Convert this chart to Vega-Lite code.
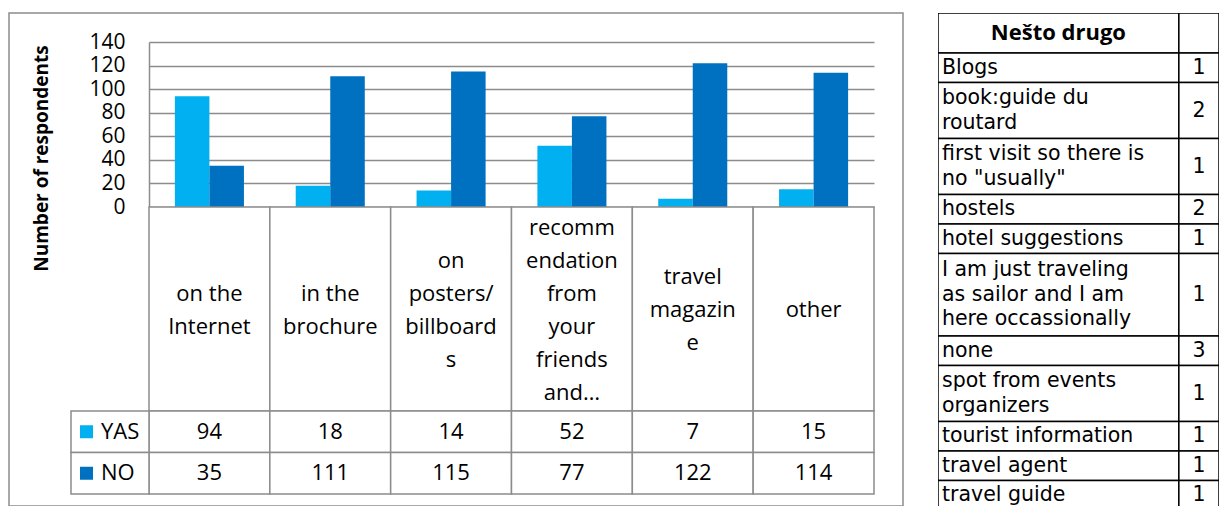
{
  "$schema": "https://vega.github.io/schema/vega-lite/v6.json",
  "padding": {"left": 8, "top": 12, "right": 0, "bottom": 0},
  "spacing": 34,
  "datasets": {
    "responses": [
      {"source": "on the Internet", "answer": "YAS", "respondents": 94},
      {"source": "on the Internet", "answer": "NO", "respondents": 35},
      {"source": "in the brochure", "answer": "YAS", "respondents": 18},
      {"source": "in the brochure", "answer": "NO", "respondents": 111},
      {"source": "on posters/billboards", "answer": "YAS", "respondents": 14},
      {"source": "on posters/billboards", "answer": "NO", "respondents": 115},
      {"source": "recommendation from your friends and…", "answer": "YAS", "respondents": 52},
      {"source": "recommendation from your friends and…", "answer": "NO", "respondents": 77},
      {"source": "travel magazine", "answer": "YAS", "respondents": 7},
      {"source": "travel magazine", "answer": "NO", "respondents": 122},
      {"source": "other", "answer": "YAS", "respondents": 15},
      {"source": "other", "answer": "NO", "respondents": 114}
    ],
    "sources": [
      {"source": "on the Internet", "label": ["on the", "Internet"]},
      {"source": "in the brochure", "label": ["in the", "brochure"]},
      {"source": "on posters/billboards", "label": ["on", "posters/", "billboard", "s"]},
      {"source": "recommendation from your friends and…", "label": ["recomm", "endation", "from", "your", "friends", "and…"]},
      {"source": "travel magazine", "label": ["travel", "magazin", "e"]},
      {"source": "other", "label": ["other"]}
    ],
    "drugo": [
      {"item": ["Nešto drugo"], "count": null},
      {"item": ["Blogs"], "count": 1},
      {"item": ["book:guide du", "routard"], "count": 2},
      {"item": ["first visit so there is", "no \"usually\""], "count": 1},
      {"item": ["hostels"], "count": 2},
      {"item": ["hotel suggestions"], "count": 1},
      {"item": ["I am just traveling", "as sailor and I am", "here occassionally"], "count": 1},
      {"item": ["none"], "count": 3},
      {"item": ["spot from events", "organizers"], "count": 1},
      {"item": ["tourist information"], "count": 1},
      {"item": ["travel agent"], "count": 1},
      {"item": ["travel guide"], "count": 1}
    ]
  },
  "hconcat": [
    {
      "width": 894,
      "height": 493,
      "view": {"stroke": "#8c8c8c", "strokeWidth": 1.5, "fill": "white"},
      "resolve": {"scale": {"x": "independent", "y": "independent"}},
      "layer": [
        {
          "data": {"name": "responses"},
          "mark": {"type": "bar"},
          "encoding": {
            "x": {
              "field": "source", "type": "nominal", "sort": null, "axis": null,
              "scale": {"domain": ["on the Internet", "in the brochure", "on posters/billboards", "recommendation from your friends and…", "travel magazine", "other"], "range": [140, 865], "paddingInner": 0, "paddingOuter": 0}
            },
            "xOffset": {
              "field": "answer", "type": "nominal",
              "scale": {"domain": ["YAS", "NO"], "paddingInner": 0, "paddingOuter": 0.75}
            },
            "y": {
              "field": "respondents", "type": "quantitative",
              "scale": {"domain": [0, 140], "range": [194, 29], "nice": false},
              "axis": {
                "orient": "left", "offset": -140, "tickCount": 7,
                "grid": true, "gridColor": "#8c8c8c", "gridWidth": 1.5,
                "domain": true, "domainColor": "#8c8c8c", "domainWidth": 1.5,
                "ticks": false, "labelPadding": 24,
                "labelFont": "Open Sans", "labelFontSize": 21, "labelColor": "black",
                "title": "Number of respondents", "titleFont": "Open Sans", "titleFontSize": 19, "titleFontWeight": "bold", "titleColor": "black",
                "titleAngle": -90, "titleX": -108, "titleY": 145, "titleAlign": "center", "titleBaseline": "middle"
              }
            },
            "color": {
              "field": "answer", "type": "nominal", "legend": null,
              "scale": {"domain": ["YAS", "NO"], "range": ["#00b0f0", "#0070c0"]}
            }
          }
        },
        {
          "data": {"name": "sources"},
          "mark": {"type": "rect", "fill": "white", "stroke": "#8c8c8c", "strokeWidth": 1.5},
          "encoding": {
            "x": {
              "field": "source", "type": "nominal", "sort": null, "axis": null,
              "scale": {"domain": ["on the Internet", "in the brochure", "on posters/billboards", "recommendation from your friends and…", "travel magazine", "other"], "range": [140, 865], "paddingInner": 0, "paddingOuter": 0}
            },
            "y": {"datum": "label", "type": "nominal", "axis": null, "scale": {"domain": ["label"], "range": [194, 398], "paddingInner": 0, "paddingOuter": 0}}
          }
        },
        {
          "data": {"name": "sources"},
          "transform": [{"calculate": "-(length(datum.label) - 1) / 2", "as": "shift"}],
          "mark": {"type": "text", "font": "Open Sans", "fontSize": 22, "lineHeight": 33, "color": "black", "baseline": "middle", "align": "center"},
          "encoding": {
            "x": {
              "field": "source", "type": "nominal", "sort": null, "axis": null,
              "scale": {"domain": ["on the Internet", "in the brochure", "on posters/billboards", "recommendation from your friends and…", "travel magazine", "other"], "range": [140, 865], "paddingInner": 0, "paddingOuter": 0}
            },
            "y": {"field": "shift", "type": "quantitative", "axis": null, "scale": {"domain": [-1, 1], "range": [264, 330], "nice": false, "zero": false}},
            "text": {"field": "label"}
          }
        },
        {
          "data": {"name": "responses"},
          "mark": {"type": "rect", "fill": "white", "stroke": "#8c8c8c", "strokeWidth": 1.5},
          "encoding": {
            "x": {
              "field": "source", "type": "nominal", "sort": null, "axis": null,
              "scale": {"domain": ["on the Internet", "in the brochure", "on posters/billboards", "recommendation from your friends and…", "travel magazine", "other"], "range": [140, 865], "paddingInner": 0, "paddingOuter": 0}
            },
            "y": {"field": "answer", "type": "nominal", "axis": null, "scale": {"domain": ["YAS", "NO"], "range": [398, 481], "paddingInner": 0, "paddingOuter": 0}}
          }
        },
        {
          "data": {"name": "responses"},
          "mark": {"type": "text", "font": "Open Sans", "fontSize": 22, "color": "black", "baseline": "middle", "align": "center"},
          "encoding": {
            "x": {
              "field": "source", "type": "nominal", "sort": null, "axis": null,
              "scale": {"domain": ["on the Internet", "in the brochure", "on posters/billboards", "recommendation from your friends and…", "travel magazine", "other"], "range": [140, 865], "paddingInner": 0, "paddingOuter": 0}
            },
            "y": {"field": "answer", "type": "nominal", "axis": null, "scale": {"domain": ["YAS", "NO"], "range": [398, 481], "paddingInner": 0, "paddingOuter": 0}},
            "text": {"field": "respondents", "type": "quantitative"}
          }
        },
        {
          "data": {"name": "responses"},
          "transform": [{"aggregate": [{"op": "count", "as": "n"}], "groupby": ["answer"]}],
          "layer": [
            {
              "mark": {"type": "rect", "fill": "white", "stroke": "#8c8c8c", "strokeWidth": 1.5},
              "encoding": {
                "x": {"datum": "legend", "type": "nominal", "axis": null, "scale": {"domain": ["legend"], "range": [62, 140], "paddingInner": 0, "paddingOuter": 0}},
                "y": {"field": "answer", "type": "nominal", "axis": null, "scale": {"domain": ["YAS", "NO"], "range": [398, 481], "paddingInner": 0, "paddingOuter": 0}}
              }
            },
            {
              "mark": {"type": "point", "shape": "square", "filled": true, "opacity": 1, "size": 169, "xOffset": -23.5},
              "encoding": {
                "x": {"datum": "legend", "type": "nominal", "axis": null, "scale": {"domain": ["legend"], "range": [62, 140], "paddingInner": 0, "paddingOuter": 0}},
                "y": {"field": "answer", "type": "nominal", "axis": null, "scale": {"domain": ["YAS", "NO"], "range": [398, 481], "paddingInner": 0, "paddingOuter": 0}},
                "color": {"field": "answer", "type": "nominal", "legend": null, "scale": {"domain": ["YAS", "NO"], "range": ["#00b0f0", "#0070c0"]}}
              }
            },
            {
              "mark": {"type": "text", "font": "Open Sans", "fontSize": 22, "color": "black", "baseline": "middle", "align": "left", "dx": -9},
              "encoding": {
                "x": {"datum": "legend", "type": "nominal", "axis": null, "scale": {"domain": ["legend"], "range": [62, 140], "paddingInner": 0, "paddingOuter": 0}},
                "y": {"field": "answer", "type": "nominal", "axis": null, "scale": {"domain": ["YAS", "NO"], "range": [398, 481], "paddingInner": 0, "paddingOuter": 0}},
                "text": {"field": "answer"}
              }
            }
          ]
        }
      ]
    },
    {
      "width": 281,
      "height": 494,
      "data": {"name": "drugo"},
      "transform": [
        {"window": [{"op": "row_number", "as": "idx"}]},
        {"calculate": "datum.idx == 1 ? 1.51 : length(datum.item) + 0.113", "as": "h"},
        {"window": [{"op": "sum", "field": "h", "as": "y1"}], "frame": [null, 0]},
        {"calculate": "datum.y1 - datum.h", "as": "y0"},
        {"calculate": "(datum.y0 + datum.y1) / 2", "as": "yc"},
        {"calculate": "datum.yc - (length(datum.item) - 1) / 2 * 0.925", "as": "yt"}
      ],
      "encoding": {
        "y": {"field": "yt", "type": "quantitative", "axis": null, "scale": {"domain": [0, 18.64], "reverse": true, "nice": false, "zero": false}}
      },
      "layer": [
        {
          "mark": {"type": "rect", "fill": "white", "stroke": "black", "strokeWidth": 1.5, "clip": true},
          "encoding": {
            "x": {"datum": 0, "type": "quantitative", "axis": null, "scale": {"domain": [0, 7], "nice": false, "zero": false}},
            "x2": {"datum": 6},
            "y": {"field": "y0", "type": "quantitative"},
            "y2": {"field": "y1"}
          }
        },
        {
          "mark": {"type": "rect", "fill": "white", "stroke": "black", "strokeWidth": 1.5, "clip": true},
          "encoding": {
            "x": {"datum": 6, "type": "quantitative", "axis": null},
            "x2": {"datum": 7},
            "y": {"field": "y0", "type": "quantitative"},
            "y2": {"field": "y1"}
          }
        },
        {
          "transform": [{"filter": "datum.idx == 1"}],
          "mark": {"type": "text", "font": "Open Sans", "fontSize": 22, "fontWeight": "bold", "color": "black", "baseline": "middle", "align": "center"},
          "encoding": {
            "x": {"datum": 3, "type": "quantitative", "axis": null},
            "text": {"field": "item"}
          }
        },
        {
          "transform": [{"filter": "datum.idx > 1"}],
          "mark": {"type": "text", "font": "DejaVu Sans", "fontSize": 20.5, "lineHeight": 24.5, "color": "black", "baseline": "middle", "align": "left", "dx": 4, "clip": true},
          "encoding": {
            "x": {"datum": 0, "type": "quantitative", "axis": null},
            "text": {"field": "item"}
          }
        },
        {
          "transform": [{"filter": "datum.idx > 1"}],
          "mark": {"type": "text", "font": "DejaVu Sans", "fontSize": 20.5, "color": "black", "baseline": "middle", "align": "center", "clip": true},
          "encoding": {
            "x": {"datum": 6.5, "type": "quantitative", "axis": null},
            "y": {"field": "yc", "type": "quantitative"},
            "text": {"field": "count", "type": "quantitative"}
          }
        }
      ]
    }
  ],
  "config": {"view": {"stroke": null}}
}
